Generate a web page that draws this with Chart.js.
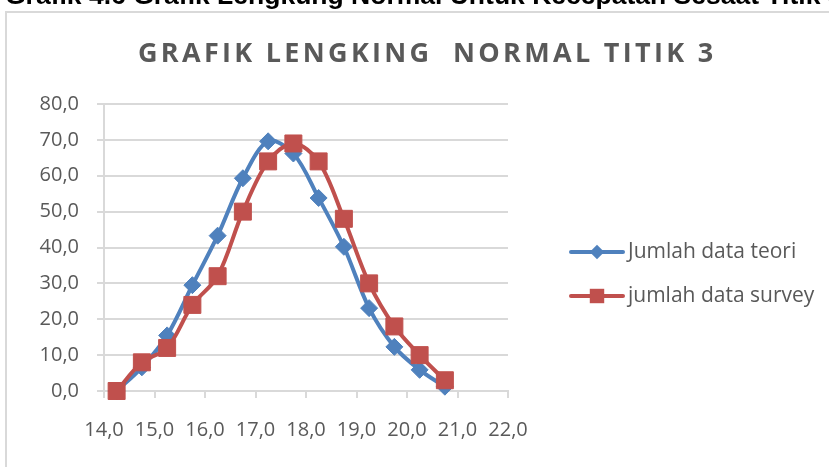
<!DOCTYPE html>
<html>
<head>
<meta charset="utf-8">
<script src="https://cdn.jsdelivr.net/npm/chart.js@4.4.1/dist/chart.umd.min.js"></script>
<style>
  html, body { margin: 0; padding: 0; background: #fff; overflow: hidden; }
  #wrap { position: relative; width: 829px; height: 467px; overflow: hidden; }
  #caption { position: absolute; left: 5px; top: -18px; font: bold 26.5px "Liberation Sans", Arial, sans-serif; line-height: 1; color: #000; white-space: nowrap; }
  #frame { position: absolute; left: 5px; top: 11px; width: 900px; height: 500px; border: 2px solid #d9d9d9; }
  #title { position: absolute; left: 138px; top: 38px; font: bold 27px "Open Sans", sans-serif; line-height: 1; letter-spacing: 3.3px; color: #595959; white-space: pre; }
  canvas { position: absolute; left: 0; top: 0; }
</style>
</head>
<body>
<div id="wrap">
  <canvas id="chart" width="829" height="467"></canvas>
  <div id="frame"></div>
  <div id="caption">Grafik 4.6 Grafik Lengkung Normal Untuk Kecepatan Sesaat Titik 3</div>
  <div id="title">GRAFIK LENGKING  NORMAL TITIK 3</div>
</div>
<script>
// kecepatan (x) and jumlah data per kelas
const xValues = [14.25, 14.75, 15.25, 15.75, 16.25, 16.75, 17.25, 17.75, 18.25, 18.75, 19.25, 19.75, 20.25, 20.75];
const teori = [0, 6.6, 15.5, 29.5, 43.3, 59.3, 69.6, 66.2, 53.8, 40.2, 23.1, 12.3, 5.9, 1.2];
const survey = [0, 8, 12, 24, 32, 50, 64, 69, 64, 48, 30, 18, 10, 3];
const seriesLabels = ['Jumlah data teori', 'jumlah data survey'];

const blue = '#4F81BD';
const red = '#C0504D';
const grey = '#595959';
const gridCol = '#d9d9d9';

const fmt = v => Number(v).toFixed(1).replace('.', ',');

function drawMarker(ctx, style, x, y, r, color) {
  ctx.fillStyle = color;
  ctx.beginPath();
  if (style === 'rect') {
    const s = Math.SQRT1_2 * r;
    ctx.rect(x - s, y - s, 2 * s, 2 * s);
  } else {
    ctx.moveTo(x - r, y);
    ctx.lineTo(x, y - r);
    ctx.lineTo(x + r, y);
    ctx.lineTo(x, y + r);
    ctx.closePath();
  }
  ctx.fill();
}

// legend on the right: line with marker in the middle
const sideLegend = {
  id: 'sideLegend',
  afterDraw(chart) {
    const ctx = chart.ctx;
    chart.data.datasets.forEach((ds, i) => {
      const y = 252 + i * 44;
      ctx.save();
      ctx.strokeStyle = ds.borderColor;
      ctx.lineWidth = 4;
      ctx.lineCap = 'round';
      ctx.beginPath();
      ctx.moveTo(571, y);
      ctx.lineTo(623, y);
      ctx.stroke();
      drawMarker(ctx, ds.pointStyle, 597, y, ds.pointRadius * 0.85, ds.borderColor);
      ctx.fillStyle = grey;
      ctx.font = '21px "Open Sans"';
      ctx.textBaseline = 'middle';
      ctx.fillText(ds.label, 628, y);
      ctx.restore();
    });
  }
};

const ctx = document.getElementById('chart').getContext('2d');
new Chart(ctx, {
  type: 'line',
  data: {
    datasets: [
      {
        label: seriesLabels[0],
        data: xValues.map((x, i) => ({ x: x, y: teori[i] })),
        borderColor: blue,
        backgroundColor: blue,
        borderWidth: 4,
        tension: 0.33,
        pointStyle: 'rectRot',
        pointRadius: 8.5,
        pointBorderWidth: 1,
        clip: false,
        order: 1,
      },
      {
        label: seriesLabels[1],
        data: xValues.map((x, i) => ({ x: x, y: survey[i] })),
        borderColor: red,
        backgroundColor: red,
        borderWidth: 4,
        tension: 0.33,
        pointStyle: 'rect',
        pointRadius: 12,
        pointBorderWidth: 1,
        clip: false,
        order: 0,
      },
    ],
  },
  options: {
    responsive: false,
    animation: false,
    layout: { padding: { left: 0, top: 104, right: 321, bottom: 16 } },
    plugins: {
      legend: { display: false },
      title: { display: false },
      tooltip: { enabled: false },
    },
    scales: {
      x: {
        type: 'linear',
        min: 14,
        max: 22,
        afterFit: s => { s.height = 60; },
        ticks: {
          stepSize: 1,
          callback: fmt,
          color: grey,
          padding: 20,
          maxRotation: 0,
          font: { family: 'Open Sans', size: 20 },
        },
        grid: { drawOnChartArea: false, drawTicks: true, tickLength: 7, color: gridCol, lineWidth: 2 },
        border: { display: true, color: gridCol, width: 2 },
      },
      y: {
        min: 0,
        max: 80,
        afterFit: s => { s.width = 104; },
        ticks: {
          stepSize: 10,
          callback: fmt,
          color: grey,
          padding: 18,
          font: { family: 'Open Sans', size: 20 },
        },
        grid: { color: gridCol, lineWidth: 2, tickLength: 7 },
        border: { display: true, color: gridCol, width: 2 },
      },
    },
  },
  plugins: [sideLegend],
});
</script>
</body>
</html>
